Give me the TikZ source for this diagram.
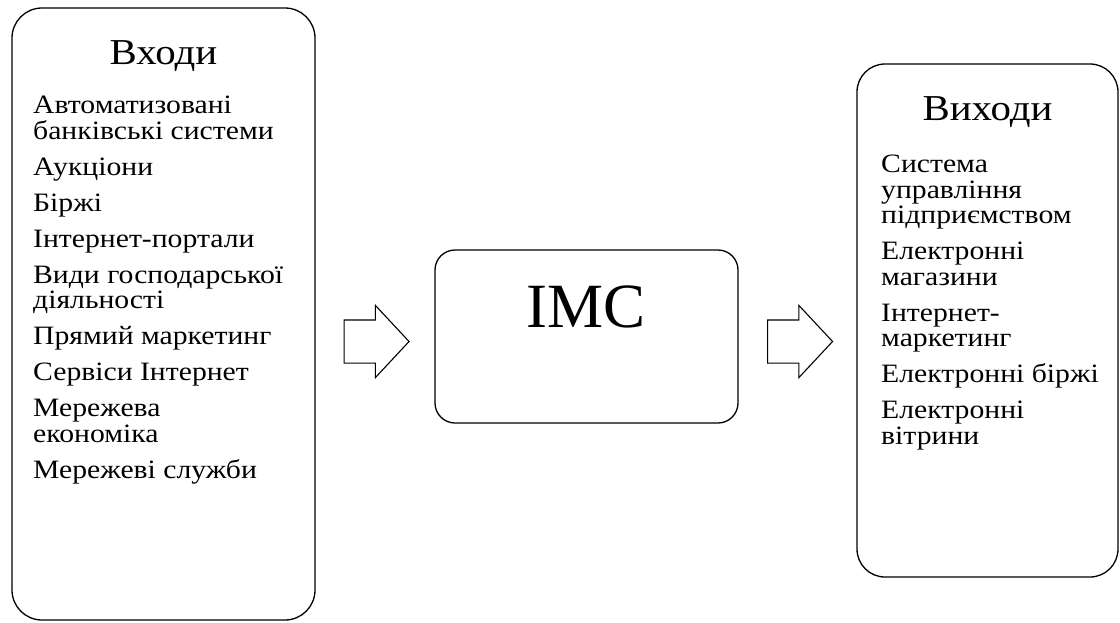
\documentclass[tikz,border=0pt]{standalone}
\usepackage{fontspec}
\setmainfont{Liberation Serif}
% the box texts are set a little wide
\newfontfamily{\widefont}{Liberation Serif}[FakeStretch=1.12]
\usepackage{tikz}
\usetikzlibrary{shapes.arrows, positioning}

% fixed line pitch, even where glyphs touch
\newcommand{\tightlines}{\lineskiplimit=-40pt\relax}

\begin{document}
\begin{tikzpicture}[
    x=1pt, y=-1pt,
    panel/.style={rectangle, draw=black, line width=1.3pt, rounded corners=#1, inner sep=0pt},
    panel/.default={28pt},
    heading/.style={anchor=base, inner sep=0pt, font={\widefont\fontsize{36.5}{40}\selectfont}},
    itemlist/.style={anchor=north west, inner sep=0pt, align=left, font={\widefont\fontsize{26.5}{25.5}\selectfont\tightlines}},
    bigarrow/.style={single arrow, draw=black, line width=1.1pt, inner xsep=0pt, inner ysep=21pt, minimum height=65pt, single arrow head extend=14.5pt, single arrow tip angle=94}
]
\useasboundingbox (0,0) rectangle (1120,622);

% === ВХОДИ ===
\node[panel=30pt, minimum width=303pt, minimum height=612pt] (inbox) at (163.5,314) {};
\node[heading] (intitle) at (163.5,64) {Входи};
\node[itemlist] (inlist) at (33,96) {Автоматизовані\\банківські системи\\[10.5pt]
    Аукціони\\[10.5pt]
    Біржі\\[10.5pt]
    Інтернет-портали\\[10.5pt]
    Види господарської\\діяльності\\[10.5pt]
    Прямий маркетинг\\[10.5pt]
    Сервіси Інтернет\\[10.5pt]
    Мережева\\економіка\\[10.5pt]
    Мережеві служби};

% === IMC ===
\node[panel=20pt, minimum width=303pt, minimum height=173pt] (core) at (586.5,336.5) {};
\node[heading, font=\fontsize{63}{66}\selectfont] (coretitle) at (586.5,327) {IMC};

% === ВИХОДИ ===
\node[panel=28pt, minimum width=261pt, minimum height=513pt] (outbox) at (987.5,320.5) {};
\node[heading] (outtitle) at (987.5,120) {Виходи};
\node[itemlist] (outlist) at (881,155) {Система\\управління\\підприємством\\[10.5pt]
    Електронні\\магазини\\[10.5pt]
    Інтернет-\\маркетинг\\[10.5pt]
    Електронні біржі\\[10.5pt]
    Електронні\\вітрини};

% === СТРІЛКИ ===
\node[bigarrow] (flowin) at (366.5,341.5) {};
\node[bigarrow] (flowout) at (790,341.5) {};

\end{tikzpicture}
\end{document}
